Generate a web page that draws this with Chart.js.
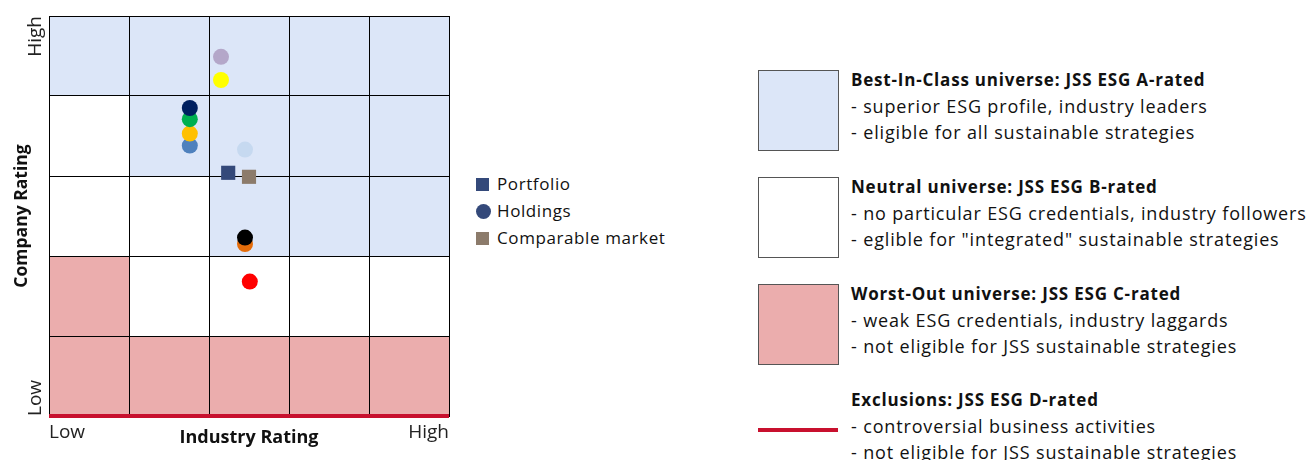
<!DOCTYPE html>
<html>
<head>
<meta charset="utf-8">
<script src="https://cdn.jsdelivr.net/npm/chart.js@4"></script>
<style>
  html, body { margin: 0; padding: 0; background: #fff; }
  body { width: 1311px; height: 460px; position: relative; overflow: hidden; font-family: 'Open Sans', sans-serif; color: #111; }
  #wrap { position: absolute; left: 0; top: 0; width: 460px; height: 460px; }
  .lg { position: absolute; font-size: 17px; line-height: 27px; letter-spacing: 0.6px; white-space: nowrap; }
  .lg .m { display: inline-block; width: 13px; height: 13px; margin-right: 8px; vertical-align: -1px; }
  .zone { position: absolute; left: 758px; }
  .zone .box { position: absolute; left: 0; width: 79px; height: 79px; border: 1px solid #555; }
  .zone .txt { position: absolute; left: 93px; font-size: 18px; line-height: 26px; letter-spacing: 0.85px; white-space: nowrap; }
  .zone .txt b { font-weight: 700; font-size: 17px; letter-spacing: 0.8px; }
</style>
</head>
<body>
<div id="wrap"><canvas id="esgChart"></canvas></div>

<div class="lg" style="left:476px; top:170px;">
  <div><span class="m" style="background:#34497a"></span>Portfolio</div>
  <div><span class="m" style="background:#34497a;border-radius:50%;width:15px;height:15px;margin-right:6px;vertical-align:-2px"></span>Holdings</div>
  <div><span class="m" style="background:#8c7b6b"></span>Comparable market</div>
</div>

<div class="zone" style="top:70px;">
  <div class="box" style="background:#dce6f8"></div>
  <div class="txt" style="top:-4px;"><b>Best-In-Class universe: JSS ESG A-rated</b><br>- superior ESG profile, industry leaders<br>- eligible for all sustainable strategies</div>
</div>
<div class="zone" style="top:177px;">
  <div class="box" style="background:#fff"></div>
  <div class="txt" style="top:-4px;"><b>Neutral universe: JSS ESG B-rated</b><br>- no particular ESG credentials, industry followers<br>- eglible for "integrated" sustainable strategies</div>
</div>
<div class="zone" style="top:284px;">
  <div class="box" style="background:#ebadad"></div>
  <div class="txt" style="top:-4px;"><b>Worst-Out universe: JSS ESG C-rated</b><br>- weak ESG credentials, industry laggards<br>- not eligible for JSS sustainable strategies</div>
</div>
<div class="zone" style="top:391px;">
  <div class="box" style="top:37px;height:4px;width:80px;border:none;background:#c8102e"></div>
  <div class="txt" style="top:-5px;"><b>Exclusions: JSS ESG D-rated</b><br>- controversial business activities<br>- not eligible for JSS sustainable strategies</div>
</div>

<script>
// rating scale 0..5 on both axes (0 = low, 5 = high)
const xTickLabels = ['Low', '', '', '', '', 'High'];
const yTickLabels = ['Low', 'High'];

// zone of each grid cell, top row first: A = best-in-class, B = neutral, C = worst-out
const zoneRows = [
  ['A', 'A', 'A', 'A', 'A'],
  ['B', 'A', 'A', 'A', 'A'],
  ['B', 'B', 'A', 'A', 'A'],
  ['C', 'B', 'B', 'B', 'B'],
  ['C', 'C', 'C', 'C', 'C']
];
const zoneColors = { A: '#dce6f8', B: '#ffffff', C: '#ebadad' };

// holdings (industry rating, company rating), later ones drawn on top
const holdingIndustry = [2.15, 2.15, 1.76, 1.76, 1.76, 1.76, 2.45, 2.45, 2.45, 2.51];
const holdingCompany  = [4.49, 4.20, 3.38, 3.53, 3.71, 3.85, 3.33, 2.15, 2.23, 1.68];
const holdingColors   = ['#b4a7c9', '#ffff00', '#4f81bd', '#ffc000', '#00b050', '#002060',
                         '#c6d9f0', '#e46c0a', '#000000', '#ff0000'];

const portfolioPoint  = { x: 2.24, y: 3.04 };
const comparablePoint = { x: 2.50, y: 2.99 };

const zonesPlugin = {
  id: 'zones',
  beforeDraw(chart) {
    const { ctx, scales: { x, y } } = chart;
    ctx.save();
    zoneRows.forEach((row, r) => {
      row.forEach((z, c) => {
        const x0 = x.getPixelForValue(c), x1 = x.getPixelForValue(c + 1);
        const y0 = y.getPixelForValue(5 - r), y1 = y.getPixelForValue(4 - r);
        ctx.fillStyle = zoneColors[z];
        ctx.fillRect(x0, y0, x1 - x0, y1 - y0);
      });
    });
    ctx.restore();
  },
  afterDraw(chart) {
    const { ctx, chartArea: a, scales: { y } } = chart;
    ctx.save();
    // exclusions line along the bottom
    ctx.strokeStyle = '#c8102e';
    ctx.lineWidth = 4;
    ctx.beginPath();
    ctx.moveTo(a.left, a.bottom);
    ctx.lineTo(a.right, a.bottom);
    ctx.stroke();
    // y tick labels, rotated
    ctx.fillStyle = '#222';
    ctx.font = '19px "Open Sans"';
    ctx.textBaseline = 'middle';
    ctx.translate(36, 0);
    ctx.rotate(-Math.PI / 2);
    ctx.textAlign = 'left';
    ctx.fillText(yTickLabels[0], -y.getPixelForValue(0), 0);
    ctx.textAlign = 'right';
    ctx.fillText(yTickLabels[1], -y.getPixelForValue(5), 0);
    ctx.restore();
  }
};

new Chart(document.getElementById('esgChart'), {
  type: 'scatter',
  data: {
    datasets: [
      {
        label: 'Holdings',
        data: holdingIndustry.map((v, i) => ({ x: v, y: holdingCompany[i] })),
        pointBackgroundColor: holdingColors,
        pointBorderWidth: 0,
        pointRadius: 8,
        order: 2
      },
      {
        label: 'Portfolio',
        data: [portfolioPoint],
        pointStyle: 'rect',
        pointBackgroundColor: '#34497a',
        pointBorderWidth: 0,
        pointRadius: 10,
        order: 1
      },
      {
        label: 'Comparable market',
        data: [comparablePoint],
        pointStyle: 'rect',
        pointBackgroundColor: '#8c7b6b',
        pointBorderWidth: 0,
        pointRadius: 10,
        order: 1
      }
    ]
  },
  options: {
    responsive: true,
    maintainAspectRatio: false,
    animation: false,
    layout: { padding: { top: 16, right: 11, left: 0, bottom: 0 } },
    plugins: {
      legend: { display: false },
      tooltip: { enabled: false }
    },
    scales: {
      x: {
        type: 'linear',
        min: 0,
        max: 5,
        afterFit: s => { s.height = 44; },
        grid: { color: '#000', lineWidth: 1, drawTicks: false },
        border: { color: '#000', width: 1 },
        ticks: {
          stepSize: 1,
          align: 'inner',
          padding: 5,
          color: '#222',
          font: { family: 'Open Sans', size: 19 },
          callback: v => xTickLabels[v]
        },
        title: {
          display: true,
          text: 'Industry Rating',
          color: '#111',
          font: { family: 'Open Sans', size: 18, weight: 'bold' },
          padding: { top: 0, bottom: 11 }
        }
      },
      y: {
        type: 'linear',
        min: 0,
        max: 5,
        afterFit: s => { s.width = 49; },
        grid: { color: '#000', lineWidth: 1, drawTicks: false },
        border: { color: '#000', width: 1 },
        ticks: { stepSize: 1, display: false },
        title: {
          display: true,
          text: 'Company Rating',
          color: '#111',
          font: { family: 'Open Sans', size: 17.5, weight: 'bold' },
          padding: { top: 12, bottom: 0 }
        }
      }
    }
  },
  plugins: [zonesPlugin]
});
</script>
</body>
</html>
